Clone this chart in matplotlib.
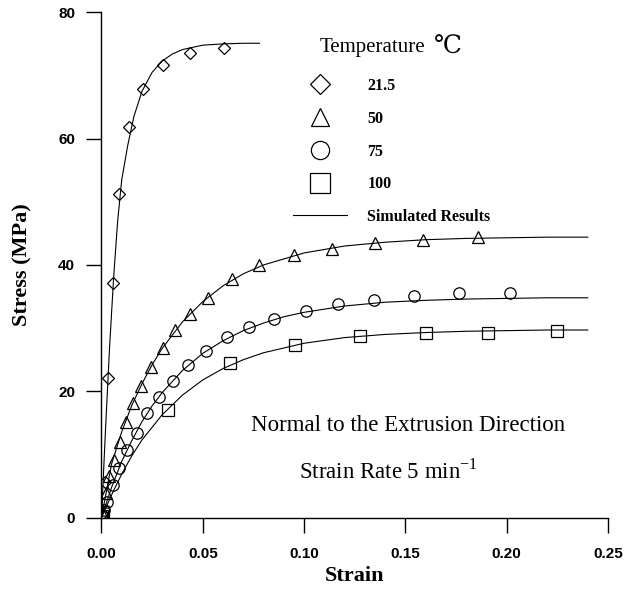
import matplotlib
matplotlib.use('Agg')
import matplotlib.pyplot as plt
from matplotlib.lines import Line2D

# Measured points (strain, stress MPa) for each temperature
temps = ['21.5', '50', '75', '100']

strain_215 = [0.0003, 0.0017, 0.0031, 0.0058, 0.0086, 0.0137, 0.0203, 0.0302, 0.0437, 0.0605]
stress_215 = [0.5, 5.7, 22.1, 37.1, 51.2, 61.9, 67.8, 71.6, 73.6, 74.3]

strain_50 = [0.0004, 0.0021, 0.0038, 0.0062, 0.0091, 0.0121, 0.0154, 0.0195, 0.0243, 0.0302,
             0.0361, 0.0437, 0.0527, 0.0644, 0.0779, 0.0952, 0.1136, 0.1350, 0.1588, 0.1857]
stress_50 = [0.8, 3.9, 6.6, 9.1, 11.9, 15.2, 18.1, 20.8, 23.9, 26.8,
             29.7, 32.3, 34.8, 37.7, 40.0, 41.6, 42.5, 43.4, 44.0, 44.4]

strain_75 = [0.0003, 0.0012, 0.0026, 0.0055, 0.0088, 0.0127, 0.0174, 0.0223, 0.0285, 0.0354,
             0.0425, 0.0516, 0.0618, 0.0728, 0.0853, 0.1008, 0.1166, 0.1345, 0.1542, 0.1766, 0.2016]
stress_75 = [0.4, 1.2, 2.5, 5.2, 7.8, 10.7, 13.4, 16.5, 19.1, 21.6,
             24.1, 26.4, 28.6, 30.2, 31.5, 32.7, 33.8, 34.4, 35.1, 35.6, 35.6]

strain_100 = [0.0002, 0.0008, 0.0326, 0.0636, 0.0955, 0.1276, 0.1600, 0.1906, 0.2247]
stress_100 = [0.3, 0.9, 17.1, 24.5, 27.4, 28.7, 29.3, 29.3, 29.6]

# Simulated curves
sim_x_215 = [0, 0.002, 0.004, 0.006, 0.008, 0.010, 0.013, 0.016, 0.020, 0.025, 0.030,
             0.035, 0.040, 0.050, 0.060, 0.070, 0.078]
sim_y_215 = [0, 14, 27, 38, 47, 53.5, 59, 63.5, 67.5, 70.5, 72.3,
             73.4, 74.1, 74.8, 75.0, 75.1, 75.1]

sim_x_50 = [0, 0.005, 0.010, 0.015, 0.020, 0.025, 0.030, 0.040, 0.050, 0.060, 0.070,
            0.080, 0.100, 0.120, 0.140, 0.160, 0.180, 0.200, 0.220, 0.240]
sim_y_50 = [0, 8.5, 13.6, 17.8, 21.2, 24.2, 26.8, 31.0, 34.2, 36.7, 38.6,
            40.0, 41.9, 43.0, 43.6, 44.0, 44.2, 44.3, 44.4, 44.4]

sim_x_75 = [0, 0.005, 0.010, 0.015, 0.020, 0.025, 0.030, 0.040, 0.050, 0.060, 0.070,
            0.080, 0.090, 0.100, 0.120, 0.140, 0.160, 0.180, 0.200, 0.220, 0.240]
sim_y_75 = [0, 4.8, 8.9, 12.2, 15.2, 17.7, 19.8, 23.3, 26.0, 28.0, 29.6,
            30.8, 31.8, 32.5, 33.5, 34.1, 34.4, 34.6, 34.7, 34.8, 34.8]

sim_x_100 = [0, 0.005, 0.010, 0.015, 0.020, 0.030, 0.040, 0.050, 0.060, 0.070,
             0.080, 0.100, 0.120, 0.140, 0.160, 0.180, 0.200, 0.220, 0.240]
sim_y_100 = [0, 3.6, 6.9, 9.8, 12.3, 16.3, 19.4, 21.8, 23.6, 25.0,
             26.1, 27.6, 28.5, 29.0, 29.3, 29.5, 29.6, 29.7, 29.7]

serif = ['Liberation Serif', 'DejaVu Serif', 'DejaVu Sans']
plt.rcParams['font.family'] = serif
plt.rcParams['mathtext.fontset'] = 'custom'
plt.rcParams['mathtext.rm'] = 'Liberation Serif'

fig = plt.figure(figsize=(6.39, 5.92), dpi=100)
ax = fig.add_axes([0.1588, 0.1257, 0.7927, 0.8535])

measured = [(strain_215, stress_215, 'D', 6.4),
            (strain_50, stress_50, '^', 8.0),
            (strain_75, stress_75, 'o', 8.2),
            (strain_100, stress_100, 's', 9.0)]
sims = [(sim_x_215, sim_y_215), (sim_x_50, sim_y_50),
        (sim_x_75, sim_y_75), (sim_x_100, sim_y_100)]

for sx, sy in sims:
    ax.plot(sx, sy, color='black', lw=0.8)

handles = []
for (x, y, mk, ms), t in zip(measured, temps):
    ax.plot(x, y, linestyle='none', marker=mk, markersize=ms, markerfacecolor='none',
            markeredgecolor='black', markeredgewidth=0.9)
    handles.append(Line2D([], [], linestyle='none', marker=mk, markersize=ms,
                          markerfacecolor='none', markeredgecolor='black',
                          markeredgewidth=0.9, label=t))
handles.append(Line2D([], [], color='black', lw=0.8, label='Simulated Results'))

ax.set_xlim(0, 0.25)
ax.set_ylim(0, 80)
ax.set_xticks([0, 0.05, 0.10, 0.15, 0.20, 0.25])
ax.set_xticklabels(['0.00', '0.05', '0.10', '0.15', '0.20', '0.25'])
ax.set_yticks([0, 20, 40, 60, 80])

for side in ['top', 'right']:
    ax.spines[side].set_visible(False)
for side in ['left', 'bottom']:
    ax.spines[side].set_linewidth(1.0)

ax.tick_params(axis='both', direction='out', length=11, width=1.0)
ax.tick_params(axis='x', pad=10)
ax.tick_params(axis='y', pad=8)
for lab in ax.get_xticklabels() + ax.get_yticklabels():
    lab.set_fontfamily('Liberation Sans')
    lab.set_fontweight('bold')
    lab.set_fontsize(11)

ax.set_xlabel('Strain', fontsize=16, fontweight='bold')
ax.set_ylabel('Stress (MPa)', fontsize=16, fontweight='bold')
ax.xaxis.set_label_coords(0.5, -0.096)
ax.yaxis.set_label_coords(-0.137, 0.5)

leg = ax.legend(handles=handles, loc='upper left', frameon=False,
                bbox_to_anchor=(293 / 639, 1 - 78 / 592), bbox_transform=fig.transFigure,
                borderpad=0, borderaxespad=0, handlelength=3.4, handletextpad=1.25,
                labelspacing=1.05, markerscale=1.6,
                prop={'family': 'Liberation Serif', 'weight': 'bold', 'size': 11.5})

ax.text(0.1078, 73.7, 'Temperature', fontsize=15, va='baseline', ha='left')
ax.text(0.1641, 73.5, '\u2103', fontsize=18, va='baseline', ha='left',
        family=['DejaVu Serif', 'DejaVu Sans'])

ax.text(0.0738, 13.7, 'Normal to the Extrusion Direction', fontsize=16.5,
        va='baseline', ha='left')
ax.text(0.0975, 6.2, r'Strain Rate 5 min$^{\mathregular{-1}}$', fontsize=16.5,
        va='baseline', ha='left')

fig.savefig('out.png', dpi=100)
